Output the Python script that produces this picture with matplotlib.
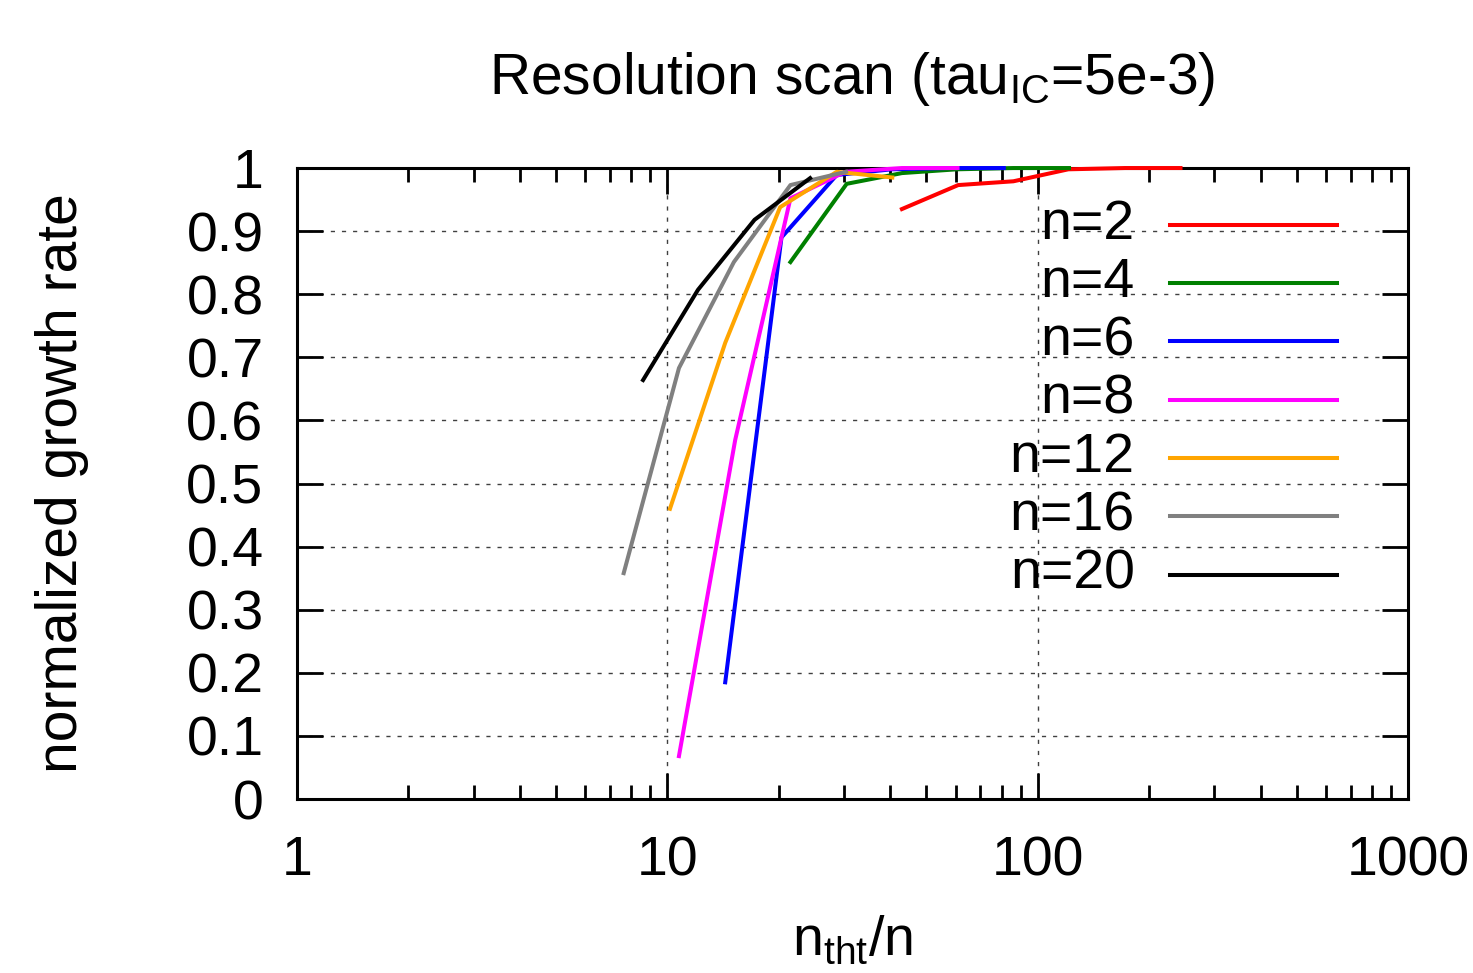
import numpy as np
from matplotlib import pyplot as plt
from matplotlib.ticker import LogLocator, NullFormatter, FixedLocator

plt.rcParams['font.family'] = ['Liberation Sans', 'DejaVu Sans']
plt.rcParams['mathtext.fontset'] = 'custom'
plt.rcParams['mathtext.rm'] = 'Liberation Sans'

# n_tht values used in the scan, and normalized growth rate per toroidal mode n
modes = [2, 4, 6, 8, 12, 16, 20]
labels = ["n=2", "n=4", "n=6", "n=8", "n=12", "n=16", "n=20"]
colors = ["red", "green", "blue", "magenta", "orange", "gray", "black"]

nth_2 = [86, 122, 172, 242, 344, 486]
gam_2 = [0.935, 0.973, 0.979, 0.998, 1.0, 1.0]
nth_4 = [86, 122, 172, 242, 344, 486]
gam_4 = [0.851, 0.975, 0.992, 0.998, 1.0, 1.0]
nth_6 = [86, 122, 172, 242, 344, 486]
gam_6 = [0.185, 0.89, 0.989, 0.998, 1.0, 1.0]
nth_8 = [86, 122, 172, 242, 344, 486]
gam_8 = [0.068, 0.569, 0.952, 0.994, 1.0, 1.0]
nth_12 = [122, 172, 242, 344, 486]
gam_12 = [0.46, 0.723, 0.938, 0.994, 0.985]
nth_16 = [122, 172, 242, 344, 486]
gam_16 = [0.358, 0.683, 0.851, 0.973, 0.994]
nth_20 = [172, 242, 344, 486]
gam_20 = [0.664, 0.807, 0.918, 0.984]

nths = [nth_2, nth_4, nth_6, nth_8, nth_12, nth_16, nth_20]
gams = [gam_2, gam_4, gam_6, gam_8, gam_12, gam_16, gam_20]

fs = 40

fig = plt.figure(figsize=(14.73, 9.73), dpi=100)
ax = fig.add_axes([0.2016, 0.1788, 0.7543, 0.6485])

for n, nth, g, c in zip(modes, nths, gams, colors):
    ax.plot(np.array(nth) / n, g, color=c, lw=2.9, clip_on=False, zorder=3)

ax.set_xscale('log')
ax.set_xlim(1, 1000)
ax.set_ylim(0, 1)

ax.xaxis.set_major_locator(FixedLocator([1, 10, 100, 1000]))
ax.xaxis.set_minor_locator(LogLocator(base=10, subs=np.arange(2, 10)))
ax.xaxis.set_minor_formatter(NullFormatter())
ax.set_xticklabels(["1", "10", "100", "1000"])
ax.set_yticks(np.arange(0, 1.01, 0.1))
ax.set_yticklabels(["0", "0.1", "0.2", "0.3", "0.4", "0.5", "0.6", "0.7", "0.8", "0.9", "1"])

ax.tick_params(which='major', direction='in', length=19, width=2, top=True, right=True,
               labelsize=fs)
ax.tick_params(axis='y', which='major', pad=24)
ax.tick_params(axis='x', which='major', pad=26)
ax.tick_params(which='minor', direction='in', length=10, width=2, top=True, right=True)
for s in ax.spines.values():
    s.set_linewidth(2.2)

ax.grid(True, which='major', color='0.25', lw=1.0, linestyle=(0, (3, 5)))

ax.set_xlabel("n$_{\\mathrm{tht}}$/n", fontsize=fs, labelpad=20)
ax.set_ylabel("normalized growth rate", fontsize=41, labelpad=70)
ax.set_title("Resolution scan (tau$_{\\mathrm{IC}}$=5e-3)", fontsize=41, pad=53)

# key, right-aligned labels
for i, (lab, c) in enumerate(zip(labels, colors)):
    y = 0.910 - i * 0.0924
    ax.plot([0.786, 0.936], [y, y], color=c, lw=2.9, transform=ax.transAxes)
    ax.text(0.754, y, lab, transform=ax.transAxes, ha='right', va='center', fontsize=fs)

fig.savefig("out.png", dpi=100)
